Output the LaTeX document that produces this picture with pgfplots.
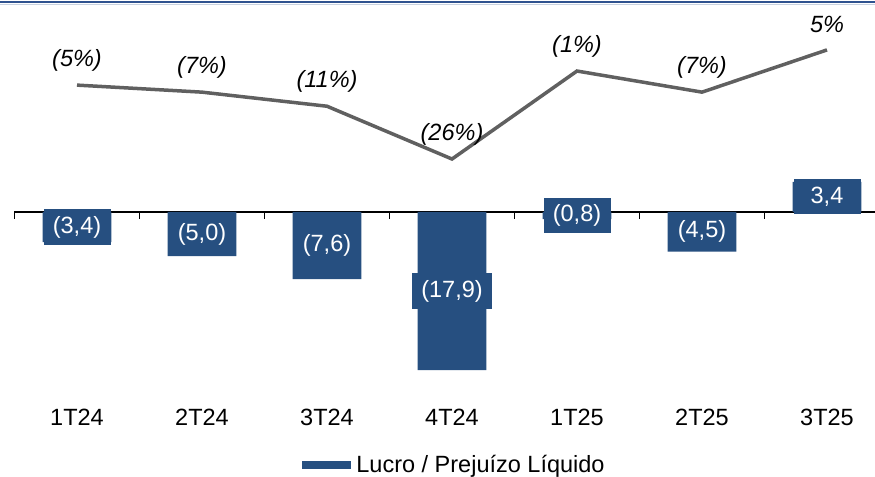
\documentclass[border=0pt]{standalone}
\usepackage{pgfplots}
\pgfplotsset{compat=1.18}
\usepackage{pgfplotstable}
\usepackage{fontspec}
\setmainfont{Liberation Sans}
\definecolor{barblue}{RGB}{38,79,128}
\definecolor{linegray}{RGB}{96,96,96}
\definecolor{topblue}{RGB}{47,82,143}
\definecolor{toplight}{RGB}{200,210,225}

\pgfplotstableread{
x v lab
0 -3.4 (3,4)
1 -5.0 (5,0)
2 -7.6 (7,6)
3 -17.9 (17,9)
4 -0.8 (0,8)
5 -4.5 (4,5)
6 3.4 3,4
}\bars

\pgfplotstableread{
x m lab
0 -5 (5\%)
1 -7 (7\%)
2 -11 (11\%)
3 -26 (26\%)
4 -1 (1\%)
5 -7 (7\%)
6 5 5\%
}\margin

\begin{document}
\begin{tikzpicture}
\useasboundingbox (0,0) rectangle (875bp,477bp);
\begin{axis}[
  at={(14bp,77bp)}, anchor=south west,
  scale only axis, width=861bp, height=395bp,
  xmin=-0.504, xmax=6.384,
  ymin=-21.29, ymax=23.44,
  clip=false,
  font=\fontsize{23.5bp}{28bp}\selectfont,
  /pgf/number format/assume math mode=true,
  axis x line*=middle, axis y line=none,
  x axis line style={black, line width=1.3bp},
  xtick={0,...,6},
  xticklabels={1T24,2T24,3T24,4T24,1T25,2T25,3T25},
  major tick length=0pt,
  xticklabel style={yshift=-194bp, text=black},
  extra x ticks={-0.5,0.5,...,5.5},
  extra x tick labels={},
  extra x tick style={major tick length=7bp, xtick align=outside, tick style={black, line width=1.3bp}},
  ytick=\empty,
  legend style={at={(0.5116,-0.1646)}, anchor=center, draw=none, fill=none,
    font=\fontsize{23.5bp}{28bp}\selectfont},
  legend image code/.code={\fill[barblue] (0bp,-3.8bp) rectangle (49bp,3.8bp); \path (52bp,0bp);},
]
\addplot[ybar, bar width=0.55, fill=barblue, draw=none] table[x=x, y=v] {\bars};
\addlegendentry{Lucro / Prejuízo Líquido}
\addplot[draw=none, mark=none, forget plot,
  nodes near coords, point meta=explicit symbolic,
  every node near coord/.style={anchor=center, fill=barblue, text=white,
    inner xsep=9bp, inner ysep=7bp, minimum height=35bp, minimum width=67bp,
    font=\fontsize{23.5bp}{28bp}\selectfont}]
  table[x=x, y expr=\thisrow{v}/2, meta=lab] {\bars};
\end{axis}
\begin{axis}[
  at={(14bp,77bp)}, anchor=south west,
  scale only axis, width=861bp, height=395bp,
  xmin=-0.504, xmax=6.384,
  ymin=-94.46, ymax=17.76,
  clip=false,
  axis lines=none,
  xtick=\empty, ytick=\empty,
]
\addplot[linegray, line width=3.5bp, mark=none,
  nodes near coords, point meta=explicit symbolic,
  every node near coord/.style={anchor=center, yshift=25bp, text=black,
    font=\fontsize{23.5bp}{28bp}\selectfont\itshape}]
  table[x=x, y=m, meta=lab] {\margin};
\end{axis}
\draw[toplight, line width=1bp] (0,472.5bp) -- (875bp,472.5bp);
\draw[topblue, line width=2bp] (0,474.5bp) -- (875bp,474.5bp);
\end{tikzpicture}
\end{document}
